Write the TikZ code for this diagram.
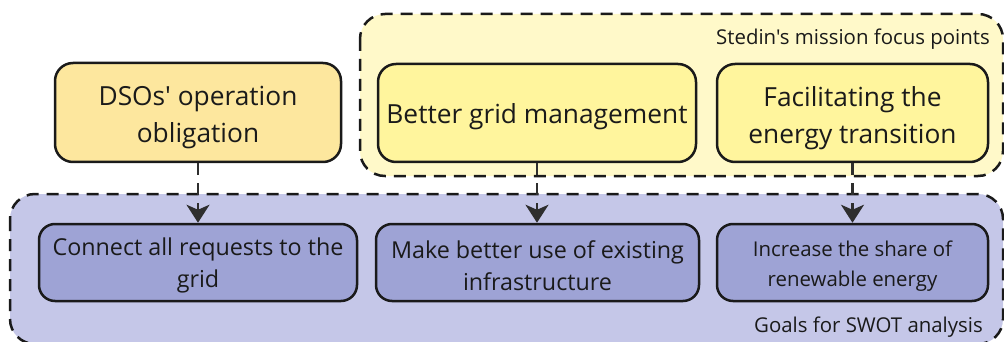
\documentclass[tikz,border=0pt]{standalone}
\usepackage{fontspec}
\setmainfont{Open Sans}[Ligatures=TeXOff]
\usetikzlibrary{arrows.meta}
\definecolor{inkc}{HTML}{1A1A1A}
\definecolor{arrowc}{HTML}{2E2E2E}
\definecolor{missionbg}{HTML}{FFF9C9}
\definecolor{goalbg}{HTML}{C5C7E8}
\definecolor{dsofill}{HTML}{FDE79E}
\definecolor{missionfill}{HTML}{FFF59D}
\definecolor{goalfill}{HTML}{9EA3D5}
\tikzset{
  groupbox/.style={draw=inkc, line width=2.5pt, rounded corners=25pt,
    dash pattern=on 12pt off 8pt},
  topbox/.style={draw=inkc, line width=2.5pt, rounded corners=18pt,
    inner sep=0pt},
  goalbox/.style={draw=inkc, line width=2.5pt, rounded corners=16pt,
    fill=goalfill, inner sep=0pt, minimum height=77pt},
  boxtext/.style={align=center, text=inkc, inner sep=0pt},
  bigtext/.style={boxtext, font=\fontsize{26.3}{36.7}\selectfont},
  midtext/.style={boxtext, font=\fontsize{23.3}{31.7}\selectfont},
  smalltext/.style={boxtext, font=\fontsize{20.4}{30}\selectfont},
  grouplabel/.style={text=inkc, inner sep=0pt,
    font=\fontsize{20.4}{26}\selectfont},
  link/.style={draw=arrowc, line width=2.3pt, dash pattern=on 12pt off 8pt,
    -{Stealth[length=18pt 0,width=23pt 0,inset=5pt 0]}},
}
\begin{document}
\begin{tikzpicture}[x=1pt,y=-1pt]
  \useasboundingbox (0,0) rectangle (1004,342);
  \clip (0,0) rectangle (1004,342);

  % group backgrounds
  \draw[groupbox, fill=missionbg] (360,14) rectangle (1003,176);
  \draw[groupbox, fill=goalbg] (10,194) rectangle (1003,344);

  \node[grouplabel, anchor=base east] (missionlbl) at (990,45)
    {Stedin's mission focus points};
  \node[grouplabel, anchor=base east] (goallbl) at (983,332)
    {Goals for SWOT analysis};

  % upper row
  \node[topbox, fill=dsofill, minimum width=286pt, minimum height=99pt]
    (dso) at (198,112.5) {};
  \node[topbox, fill=missionfill, minimum width=318pt, minimum height=98pt]
    (grid) at (537,113) {};
  \node[topbox, fill=missionfill, minimum width=271pt, minimum height=98pt]
    (trans) at (852.5,113) {};
  \node[bigtext] (dsotxt) at ([yshift=-5pt]dso.center)
    {DSOs' operation\\obligation};
  \node[bigtext] (gridtxt) at ([yshift=-4pt]grid.center)
    {Better grid management};
  \node[bigtext] (transtxt) at ([yshift=-5pt]trans.center)
    {Facilitating the\\energy transition};

  % lower row
  \node[goalbox, minimum width=318pt] (connect) at (198,262.5) {};
  \node[goalbox, minimum width=323pt] (infra) at (537.5,262.5) {};
  \node[goalbox, minimum width=271pt] (renew) at (852.5,262.5) {};
  \node[midtext] (connecttxt) at ([yshift=-3pt]connect.center)
    {Connect all requests to the\\grid};
  \node[midtext] (infratxt) at ([yshift=-3pt]infra.center)
    {Make better use of existing\\infrastructure};
  \node[smalltext] (renewtxt) at ([yshift=-4pt]renew.center)
    {Increase the share of\\renewable energy};

  % links
  \draw[link] (dso.south) -- (connect.north);
  \draw[link] (grid.south) -- (grid.south |- infra.north);
  \draw[link] (trans.south) -- (renew.north);
\end{tikzpicture}
\end{document}
